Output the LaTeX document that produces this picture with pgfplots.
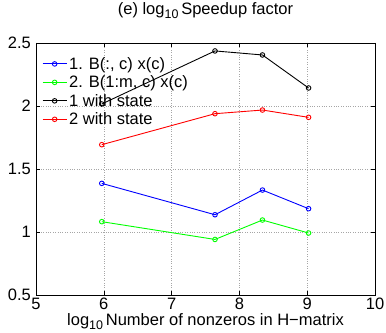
\documentclass[border=0pt]{standalone}
\usepackage{pgfplots}
\pgfplotsset{compat=1.18}
\usepackage{fontspec}
\setmainfont{Liberation Sans}
\newcommand{\sub}[1]{\raisebox{-4pt}{\fontsize{12.5}{14}\selectfont #1}}
\begin{document}
\begin{tikzpicture}
\begin{axis}[
  scale only axis, width=339pt, height=252pt,
  xmin=5, xmax=10, ymin=0.5, ymax=2.5,
  xtick={5,6,7,8,9,10}, ytick={0.5,1,1.5,2,2.5},
  yticklabels={0.5,1,1.5,2,2.5},
  /pgf/number format/assume math mode=true,
  tick label style={font=\fontsize{16.5}{19}\selectfont, inner sep=0pt},
  xticklabel style={yshift=-2.5pt},
  yticklabel style={xshift=-5pt},
  tick align=inside, major tick length=4pt,
  grid=major, grid style={dotted, gray!70},
  axis line style={line width=0.8pt},
  every tick/.style={black, line width=0.6pt},
  title={(e) log\sub{10}\,Speedup factor},
  title style={font=\fontsize{16.5}{19}\selectfont, at={(axis description cs:0.5,1)}, anchor=base, yshift=22pt, inner sep=0pt},
  xlabel={log\sub{10}\,Number of nonzeros in H\textminus matrix},
  xlabel style={font=\fontsize{16.5}{19}\selectfont, at={(axis description cs:0.5,0)}, anchor=base, yshift=-30.5pt, inner sep=0pt},
  legend style={draw=none, fill=none, at={(0.0,1.0)}, anchor=north west, xshift=3pt, yshift=-10pt, row sep=1pt, font=\fontsize{16.5}{19}\selectfont},
  legend image code/.code={\draw[mark repeat=2, mark phase=2] plot coordinates {(0pt,0pt) (12pt,0pt) (24pt,0pt)};},
  legend cell align=left,
  every axis plot/.append style={line width=0.9pt, mark=o, mark size=2.3pt, mark options={solid}},
]
\addplot[blue] coordinates {(5.97,1.386) (7.64,1.137) (8.34,1.333) (9.02,1.185)};
\addlegendentry{1. B(:, c) x(c)}
\addplot[green] coordinates {(5.97,1.082) (7.64,0.941) (8.34,1.095) (9.02,0.992)};
\addlegendentry{2. B(1:m, c) x(c)}
\addplot[black] coordinates {(5.97,2.016) (7.64,2.437) (8.34,2.405) (9.02,2.143)};
\addlegendentry{1 with state}
\addplot[red] coordinates {(5.97,1.693) (7.64,1.939) (8.34,1.968) (9.02,1.910)};
\addlegendentry{2 with state}
\end{axis}
\pgfresetboundingbox
\useasboundingbox ([shift={(-36pt,-37pt)}]current axis.south west) rectangle ([shift={(11pt,43pt)}]current axis.north east);
\end{tikzpicture}
\end{document}
